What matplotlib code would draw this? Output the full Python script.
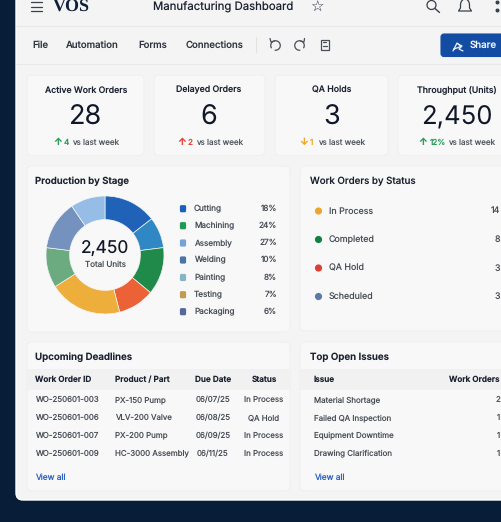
import matplotlib
matplotlib.use("Agg")
from matplotlib import pyplot as plt
from matplotlib.patches import FancyBboxPatch, Rectangle, Circle, Arc

plt.rcParams['font.family'] = ['Inter', 'DejaVu Sans']
plt.rcParams['text.hinting'] = 'no_hinting'
plt.rcParams['text.hinting_factor'] = 1

# kpi cards
card_titles = ["Active Work Orders", "Delayed Orders", "QA Holds", "Throughput (Units)"]
card_values = ["28", "6", "3", "2,450"]
card_arrows = ["↑", "↑", "↓", "↑"]
card_deltas = ["4", "2", "1", "12%"]
card_colors = ["#2e9e5b", "#e0483a", "#eda62c", "#2e9e5b"]

# donut slices, as drawn (they don't follow the legend percentages)
slice_sizes = [14.5, 8.5, 13, 10, 20, 11, 13.5, 9.5]
slice_colors = ["#2062b8", "#2f87c4", "#1f8a4a", "#ea6236", "#edae3c", "#6cab80", "#7492bd", "#96bde6"]

# legend of the donut
stages = ["Cutting", "Machining", "Assembly", "Welding", "Painting", "Testing", "Packaging"]
stage_pct = ["18%", "24%", "27%", "10%", "8%", "7%", "6%"]
stage_colors = ["#1c5fbd", "#1f9a50", "#74a3d8", "#4a74a8", "#85b6c8", "#bf9c50", "#54689c"]

# work orders by status
statuses = ["In Process", "Completed", "QA Hold", "Scheduled"]
status_counts = [14, 8, 3, 3]
status_colors = ["#eda62c", "#14803f", "#dd3f36", "#5b7ba6"]

# deadlines table
deadline_cols = ["Work Order ID", "Product / Part", "Due Date", "Status"]
order_ids = ["WO-250601-003", "WO-250601-006", "WO-250601-007", "WO-250601-009"]
products = ["PX-150 Pump", "VLV-200 Valve", "PX-200 Pump", "HC-3000 Assembly"]
due_dates = ["06/07/25", "06/08/25", "06/09/25", "06/11/25"]
order_status = ["In Process", "QA Hold", "In Process", "In Process"]

# issues table
issues = ["Material Shortage", "Failed QA Inspection", "Equipment Downtime", "Drawing Clarification"]
issue_counts = [2, 1, 1, 1]

NAVY = "#071d38"
PANEL = "#f4f4f4"
CARD = "#f8f8f8"
EDGE = "#f0f0f0"
DARK = "#1b2230"
GREY = "#4a4f58"
LINK = "#2c62c0"

fig = plt.figure(figsize=(5.02, 5.22), dpi=100, facecolor=NAVY)
ax = fig.add_axes([0, 0, 1, 1])
ax.set_xlim(0, 502)
ax.set_ylim(522, 0)
ax.axis('off')


def box(x0, y0, x1, y1, color=CARD, edge=EDGE, r=5, lw=0.8, z=2):
    ax.add_patch(FancyBboxPatch((x0 + r, y0 + r), x1 - x0 - 2 * r, y1 - y0 - 2 * r,
                                boxstyle="round,pad=%d,rounding_size=%d" % (r, r),
                                fc=color, ec=edge, lw=lw, zorder=z))


def label(x, y, s, size=6.2, color=GREY, ha='left', weight='normal', **kw):
    ax.text(x, y, s, fontsize=size, color=color, ha=ha, va='center', fontweight=weight, zorder=5, **kw)


def stroke(xs, ys, color=GREY, lw=1.0):
    ax.plot(xs, ys, color=color, lw=lw, solid_capstyle='round', zorder=5)


# app panel
box(16, -30, 560, 500, color=PANEL, edge="#ffffff", r=7, lw=1.0, z=1)
ax.plot([16, 502], [26, 26], color="#e9e9e9", lw=0.8, zorder=2)
ax.plot([16, 502], [64, 64], color="#e9e9e9", lw=0.8, zorder=2)

# header
for y in [1.5, 6.5, 11]:
    stroke([31, 42.5], [y, y], color="#3a4048", lw=0.9)
ax.text(52.5, 12, "VOS", fontsize=13, family="Liberation Serif", fontweight='bold', color="#101f3a",
        va='baseline', zorder=5)
label(153, 7, "Manufacturing Dashboard", size=8.2, color=DARK)
ax.text(316.5, 7, "☆", fontsize=11, family="DejaVu Sans", color=DARK, ha='center', va='center', zorder=5)
ax.add_patch(Circle((431.5, 5), 4.5, fc='none', ec="#3a4048", lw=0.9, zorder=5))
stroke([435, 439.5], [8.5, 12.5], color="#3a4048")
ax.add_patch(Arc((465, 5), 9, 12, theta1=180, theta2=360, ec="#3a4048", lw=0.9, zorder=5))
stroke([460.5, 460.5, 458.5, 471.5, 469.5, 469.5], [5, 8, 11, 11, 8, 5], color="#3a4048", lw=0.9)
ax.scatter([497.5, 497.5], [2, 10], s=3.5, color="#3a4048", zorder=5)

# toolbar
for x, s in zip([32, 65.5, 138, 186], ["File", "Automation", "Forms", "Connections"]):
    label(x, 45, s, size=6.9, color="#30353f", weight='medium')
ax.plot([256.5, 256.5], [37, 52], color="#e2e2e2", lw=0.8, zorder=3)
ax.add_patch(Arc((275.5, 45.5), 9.5, 9.5, theta1=-215, theta2=100, ec=GREY, lw=0.9, zorder=5))
stroke([270, 271, 274.5], [38.5, 42, 41], lw=0.9)
ax.add_patch(Arc((299.5, 45.5), 9.5, 9.5, theta1=-280, theta2=35, ec=GREY, lw=0.9, zorder=5))
stroke([304.5, 304, 300.5], [38.5, 42, 41], lw=0.9)
ax.add_patch(Rectangle((321, 40), 8.5, 10, fc='none', ec=GREY, lw=0.9, zorder=5))
stroke([323, 327.5], [46, 46], lw=0.9)
stroke([323, 326], [41.5, 41.5], lw=0.9)
box(441, 34, 530, 56.5, color="#134da3", edge="#134da3", r=3, z=3)
stroke([453, 457, 461, 454], [51, 43, 46.5, 49], color="#eaf0fa", lw=0.9)
stroke([458, 462, 459, 463], [44, 46, 49, 51], color="#eaf0fa", lw=0.9)
label(470, 45, "Share", size=7, color="#f2f5fb", weight='medium')

# kpi cards
card_edges = [(27, 144), (154, 265), (275, 388), (398, 540)]
card_mid = [86, 209, 332, 457]
delta_x = [(58, 64, 72), (182, 188, 196), (304, 310, 318), (423, 430, 448)]
value_size = [19.5, 19.5, 19.5, 18.5]
for i, (x0, x1) in enumerate(card_edges):
    box(x0, 75, x1, 155.5)
    label(card_mid[i], 90, card_titles[i], size=6.3, color=DARK, ha='center', weight='medium')
    label(card_mid[i], 117.5, card_values[i], size=value_size[i], color="#101828", ha='center')
    ax_x, d_x, v_x = delta_x[i]
    label(ax_x, 142.5, card_arrows[i], size=7, color=card_colors[i], ha='center', weight='bold')
    label(d_x, 142.5, card_deltas[i], size=5.8, color=card_colors[i], weight='medium')
    label(v_x, 142.5, "vs last week", size=5.8, color="#555a63")

# production by stage
box(27, 166, 290, 332)
label(35, 181, "Production by Stage", size=6.9, color=DARK, weight='semibold')
pie_ax = fig.add_axes([(105 - 59) / 502, 1 - (255 + 59) / 522, 118 / 502, 118 / 522], zorder=6)
pie_ax.pie(slice_sizes, colors=slice_colors, startangle=90, counterclock=False, radius=1.0,
           wedgeprops=dict(width=0.4, edgecolor="#f4f4f4", linewidth=0.5))
pie_ax.set_xlim(-1, 1)
pie_ax.set_ylim(-1, 1)
pie_ax.patch.set_alpha(0)
label(105, 248.5, "2,450", size=12.5, color="#101828", ha='center')
label(105, 264.5, "Total Units", size=5.8, color=GREY, ha='center')
stage_y = [208.7, 225.7, 243, 260, 277.5, 294.7, 311.7]
for y, s, p, c in zip(stage_y, stages, stage_pct, stage_colors):
    ax.add_patch(FancyBboxPatch((180.5, y - 3), 5, 6, boxstyle="round,pad=0.6,rounding_size=1.5",
                                fc=c, ec='none', zorder=5))
    label(194, y, s, size=5.9)
    label(277, y, p, size=5.9, ha='right')

# work orders by status
box(300, 166, 540, 331)
label(310.5, 181, "Work Orders by Status", size=7, color=DARK, weight='medium')
for y, s, n, c in zip([211, 239.5, 268, 296.5], statuses, status_counts, status_colors):
    ax.add_patch(Circle((318.5, y), 3.6, fc=c, ec='none', zorder=5))
    label(329, y, s, size=6.4)
    label(500, y, str(n), size=6.4, ha='right')

# upcoming deadlines
row_y = [400, 418, 435.5, 453.5]
box(27, 342, 290, 491)
label(35, 357, "Upcoming Deadlines", size=7, color=DARK, weight='semibold')
ax.add_patch(Rectangle((27, 369), 263, 21, fc="#f1f1f1", ec='none', zorder=3))
label(35, 380, deadline_cols[0], size=5.9, color=DARK, weight='semibold')
label(115, 380, deadline_cols[1], size=5.9, color=DARK, weight='semibold')
label(213, 380, deadline_cols[2], size=5.9, color=DARK, ha='center', weight='semibold')
label(264, 380, deadline_cols[3], size=5.9, color=DARK, ha='center', weight='semibold')
for y, a, b, c, d in zip(row_y, order_ids, products, due_dates, order_status):
    label(35, y, a, size=5.7)
    label(115, y, b, size=5.7)
    label(213, y, c, size=5.7, ha='center')
    label(263.5, y, d, size=5.7, ha='center')
label(35, 478, "View all", size=6, color=LINK)

# top open issues
box(300, 342, 540, 491)
label(310.5, 357, "Top Open Issues", size=7, color=DARK, weight='semibold')
ax.add_patch(Rectangle((300, 369), 202, 21, fc="#f1f1f1", ec='none', zorder=3))
label(314, 380, "Issue", size=5.9, color=DARK, weight='semibold')
label(500, 380, "Work Orders", size=5.9, color=DARK, ha='right', weight='semibold')
for y, s, n in zip(row_y, issues, issue_counts):
    label(314, y, s, size=5.7)
    label(500, y, str(n), size=5.7, ha='right')
label(314, 478, "View all", size=6, color=LINK)

fig.savefig('out.png', dpi=100, facecolor=NAVY)
